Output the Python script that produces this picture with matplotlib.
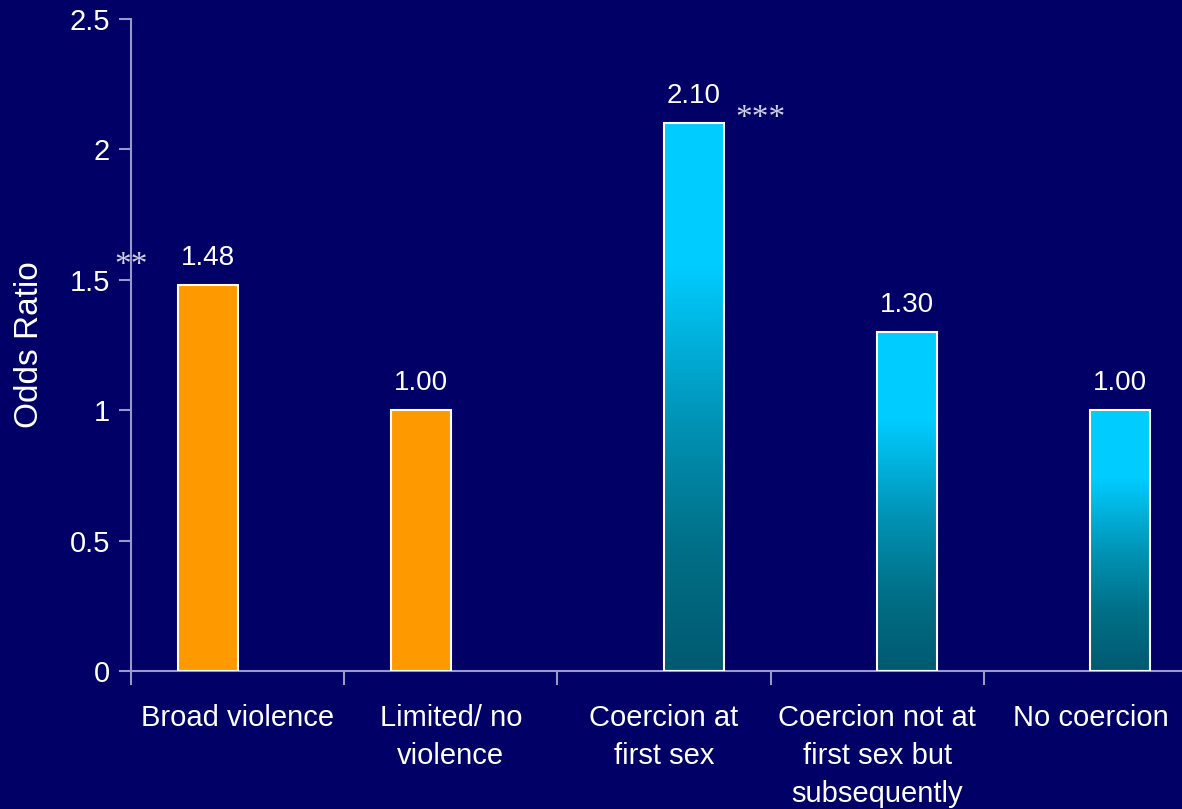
import numpy as np
import matplotlib.pyplot as plt
from matplotlib.colors import LinearSegmentedColormap

# odds ratios by exposure group
categories = ["Broad violence", "Limited/ no\nviolence", "Coercion at\nfirst sex",
              "Coercion not at\nfirst sex but\nsubsequently", "No coercion"]
odds_ratio = [1.48, 1.00, 2.10, 1.30, 1.00]
series = [0, 0, 1, 1, 1]          # 0 = violence measure, 1 = coercion measure
value_labels = ["1.48", "1.00", "2.10", "1.30", "1.00"]
stars = ["**", "", "***", "", ""]

BG = "#000066"
AXIS = "#9a9ac8"
ORANGE = "#ff9900"
teal = LinearSegmentedColormap.from_list(
    "teal", [(0.0, "#005a70"), (0.23, "#007088"), (0.45, "#0092b4"),
             (0.74, "#00ccff"), (1.0, "#00ccff")])

plt.rcParams["font.family"] = ["Liberation Sans", "DejaVu Sans"]

fig = plt.figure(figsize=(11.82, 8.09), dpi=100, facecolor=BG)
ax = fig.add_axes([131 / 1182, 138 / 809, 1066 / 1182, 652 / 809], facecolor=BG)

x = np.arange(len(categories))
width = 0.28
offsets = np.where(np.array(series) == 0, -0.14, 0.14)
pos = x + offsets

bars = ax.bar(pos, odds_ratio, width=width, color=ORANGE, edgecolor="white",
              linewidth=1.5, zorder=3)

# vertical cyan-to-teal fill for the coercion bars
grad = np.linspace(0, 1, 256).reshape(-1, 1)
for b, s in zip(bars, series):
    if s == 1:
        b.set_facecolor("none")
        x0, w, h = b.get_x(), b.get_width(), b.get_height()
        im = ax.imshow(grad, cmap=teal, origin="lower", aspect="auto",
                       extent=[x0, x0 + w, 0, h], zorder=2)
        im.set_clip_path(b)

for p, v, lab, st in zip(pos, odds_ratio, value_labels, stars):
    ax.annotate(lab, (p, v), xytext=(0, 10), textcoords="offset points",
                ha="center", va="bottom", color="white", fontsize=20)
    if st:
        dx = -55 if st == "**" else 48
        dy = 14 if st == "**" else 3
        ax.annotate(st, (p, v), xytext=(dx, dy), textcoords="offset points",
                    ha="center", va="center", color="#d0d0e8", fontsize=24,
                    family=["Liberation Serif", "DejaVu Serif"])

ax.set_xlim(-0.5, 4.5)
ax.set_ylim(0, 2.5)
ax.set_yticks([0, 0.5, 1, 1.5, 2, 2.5])
ax.set_yticklabels(["0", "0.5", "1", "1.5", "2", "2.5"])
ax.set_xticks(x)
ax.set_xticklabels(categories, linespacing=1.45)
ax.set_xticks(np.arange(-0.5, 4.6, 1), minor=True)
ax.tick_params(axis="x", which="major", length=0, pad=24, labelsize=21, colors="white")
ax.tick_params(axis="x", which="minor", length=10, width=1.5, color=AXIS)
ax.tick_params(axis="y", length=9, width=1.5, color=AXIS, labelsize=21,
               labelcolor="white", pad=6)

for side in ["top", "right"]:
    ax.spines[side].set_visible(False)
for side in ["left", "bottom"]:
    ax.spines[side].set_color(AXIS)
    ax.spines[side].set_linewidth(1.5)

ax.set_ylabel("Odds Ratio", color="white", fontsize=24, labelpad=18)

fig.savefig("out.png", dpi=100, facecolor=BG)
